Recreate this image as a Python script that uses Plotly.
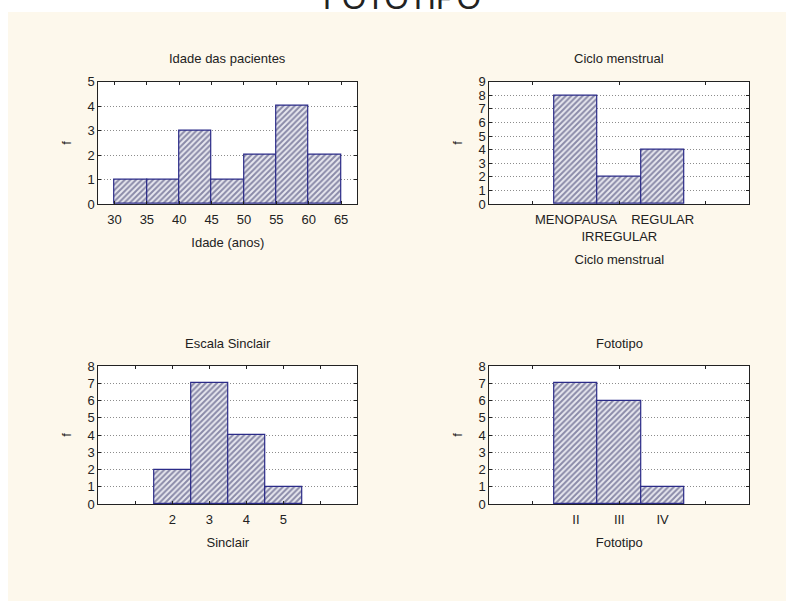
import plotly.graph_objects as go

# ---------------- data ----------------
age_edges = [30, 35, 40, 45, 50, 55, 60, 65]
age_counts = [1, 1, 3, 1, 2, 4, 2]

ciclo_labels = ["MENOPAUSA", "IRREGULAR", "REGULAR"]
ciclo_counts = [8, 2, 4]

sinclair_vals = [2, 3, 4, 5]
sinclair_counts = [2, 7, 4, 1]
sinclair_ticks = [1, 2, 3, 4, 5, 6]

fototipo_labels = ["II", "III", "IV"]
fototipo_counts = [7, 6, 1]

W, H = 786, 601
FONT = "Liberation Sans, Arial, sans-serif"
INK = "#222222"
CREAM = "#fdf8ec"
FS = 13


def px_x(v):
    return v / W


def px_y(v):
    return 1 - v / H


bar_style = dict(
    color="#ffffff",
    line=dict(color="#2b2b88", width=1.2),
    pattern=dict(shape="/", fgcolor="#2c2c62", bgcolor="#e8e8ef", size=4, solidity=0.5),
)

fig = go.Figure()

# Panel 1 : Idade
age_centers = [(a + b) / 2 for a, b in zip(age_edges[:-1], age_edges[1:])]
age_widths = [b - a for a, b in zip(age_edges[:-1], age_edges[1:])]
fig.add_trace(go.Bar(x=age_centers, y=age_counts, width=age_widths,
                     marker=bar_style, xaxis="x", yaxis="y", showlegend=False))

# Panel 2 : Ciclo menstrual
ciclo_pos = [i + 1 for i in range(len(ciclo_labels))]
fig.add_trace(go.Bar(x=ciclo_pos, y=ciclo_counts, width=1,
                     marker=bar_style, xaxis="x2", yaxis="y2", showlegend=False))

# Panel 3 : Sinclair
fig.add_trace(go.Bar(x=sinclair_vals, y=sinclair_counts, width=1,
                     marker=bar_style, xaxis="x3", yaxis="y3", showlegend=False))

# Panel 4 : Fototipo
foto_pos = [i + 1 for i in range(len(fototipo_labels))]
fig.add_trace(go.Bar(x=foto_pos, y=fototipo_counts, width=1,
                     marker=bar_style, xaxis="x4", yaxis="y4", showlegend=False))

common_x = dict(showline=True, linecolor=INK, linewidth=1, mirror="ticks",
                ticks="inside", ticklen=3, tickcolor=INK, showgrid=False,
                zeroline=False, tickangle=0, automargin=False, ticklabelstandoff=3,
                tickfont=dict(size=FS, color=INK, family=FONT),
                title_font=dict(size=FS, color=INK, family=FONT))
common_y = dict(showline=True, linecolor=INK, linewidth=1, mirror="ticks",
                ticks="inside", ticklen=3, tickcolor=INK, showgrid=True,
                gridcolor="#8c8c8c", griddash="1px,2px", gridwidth=1,
                zeroline=False, dtick=1, tick0=0, automargin=False,
                tickfont=dict(size=FS, color=INK, family=FONT),
                title=dict(text="f", standoff=12,
                           font=dict(size=FS, color=INK, family=FONT)))

top_dom = [px_y(204), px_y(81.7)]
bot_dom = [px_y(504), px_y(366)]
left_dom = [px_x(98.3), px_x(357.3)]
right_dom = [px_x(489.3), px_x(749.3)]

fig.update_layout(
    width=W, height=H,
    margin=dict(l=0, r=0, t=0, b=0, autoexpand=False),
    paper_bgcolor=CREAM, plot_bgcolor="#ffffff",
    font=dict(family=FONT, size=FS, color=INK),
    bargap=0,
    xaxis=dict(common_x, domain=left_dom, anchor="y", range=[27.5, 67.5],
               tickvals=age_edges, title=dict(text="Idade (anos)", standoff=12)),
    yaxis=dict(common_y, domain=top_dom, anchor="x", range=[0, 5]),
    xaxis2=dict(common_x, domain=right_dom, anchor="y2", range=[-1, 5],
                tickvals=ciclo_pos,
                ticktext=[t if i % 2 == 0 else "<br>" + t for i, t in enumerate(ciclo_labels)],
                ticks="", minor=dict(tickvals=[0, 2, 4], ticks="inside", ticklen=3, tickcolor=INK),
                title=dict(text="Ciclo menstrual", standoff=12)),
    yaxis2=dict(common_y, domain=top_dom, anchor="x2", range=[0, 9]),
    xaxis3=dict(common_x, domain=left_dom, anchor="y3", range=[0, 7],
                tickvals=sinclair_ticks,
                ticktext=[str(v) if v in sinclair_vals else "" for v in sinclair_ticks],
                title=dict(text="Sinclair", standoff=12)),
    yaxis3=dict(common_y, domain=bot_dom, anchor="x3", range=[0, 8]),
    xaxis4=dict(common_x, domain=right_dom, anchor="y4", range=[-1, 5],
                tickvals=foto_pos, ticktext=fototipo_labels,
                ticks="", minor=dict(tickvals=[0, 2, 4], ticks="inside", ticklen=3, tickcolor=INK),
                title=dict(text="Fototipo", standoff=12)),
    yaxis4=dict(common_y, domain=bot_dom, anchor="x4", range=[0, 8]),
)

# white margins outside the cream panel
fig.add_shape(type="rect", xref="paper", yref="paper", x0=0, x1=1, y0=px_y(12), y1=1,
              fillcolor="#ffffff", line=dict(width=0), layer="below")
fig.add_shape(type="rect", xref="paper", yref="paper", x0=0, x1=px_x(8), y0=0, y1=1,
              fillcolor="#ffffff", line=dict(width=0), layer="below")

# subplot titles
titles = [("Idade das pacientes", (98.3 + 357.3) / 2, 58),
          ("Ciclo menstrual", (489.3 + 749.3) / 2, 58),
          ("Escala Sinclair", (98.3 + 357.3) / 2, 343),
          ("Fototipo", (489.3 + 749.3) / 2, 343)]
for txt, cx, cy in titles:
    fig.add_annotation(text=txt, xref="paper", yref="paper", x=px_x(cx), y=px_y(cy),
                       xanchor="center", yanchor="middle", showarrow=False,
                       font=dict(size=FS, color=INK, family=FONT))

# big (cropped) page title
fig.add_annotation(text="FOTOTIPO", xref="paper", yref="paper", x=px_x(402), y=px_y(18),
                   xanchor="center", yanchor="bottom", showarrow=False,
                   font=dict(size=31, color=INK, family=FONT))

fig.write_html(
    "out.html",
    config={"displayModeBar": False},
    post_script="document.body.style.margin='0';document.body.style.overflow='hidden';",
)
